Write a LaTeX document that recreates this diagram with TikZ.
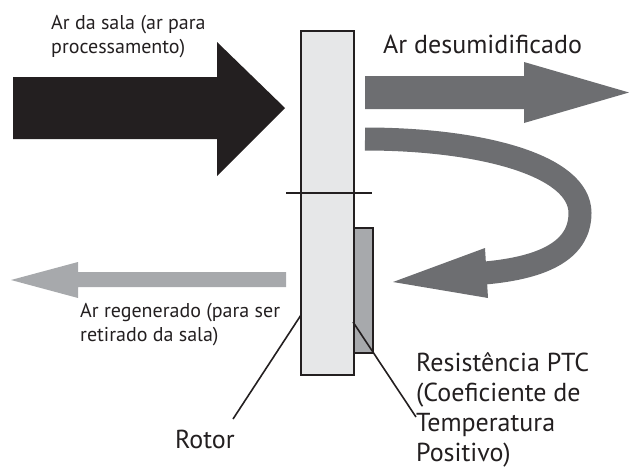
\documentclass[tikz,border=0pt]{standalone}
\usepackage{fontspec}
\setmainfont{PT Sans}
\usetikzlibrary{positioning}
\definecolor{inkblack}{HTML}{231F20}
\definecolor{dryair}{HTML}{6D6E71}
\definecolor{wetair}{HTML}{A7A9AC}
\definecolor{rotorfill}{HTML}{E6E7E8}

\begin{document}
\begin{tikzpicture}[
  x=1pt, y=-1pt,
  biglbl/.style={font=\fontsize{26}{30}\selectfont, inner sep=0pt, align=left, anchor=base west, text=inkblack},
  smalllbl/.style={font=\fontsize{20}{24}\selectfont, inner sep=0pt, align=left, anchor=base west, text=inkblack},
  part/.style={draw=inkblack, line width=1.4pt, inner sep=0pt},
  leader/.style={draw=inkblack, line width=1.6pt}
]
  \useasboundingbox (0,0) rectangle (629,471);

  \fill[inkblack] (13,77) -- (217,77) -- (217,42) -- (285,108) -- (217,176) -- (217,139) -- (13,139) -- cycle;

  \fill[dryair] (365,76) -- (524,76) -- (524,62) -- (629,92.5) -- (524,123) -- (524,109) -- (365,109) -- cycle;
  \draw[dryair, line width=23pt] (365,139) .. controls (480,139) and (580,165) .. (580,213)
    .. controls (580,252) and (540,268) .. (485,273);
  \fill[dryair] (485,248) -- (393,282) -- (488,298) -- cycle;

  \fill[wetair] (286,272) -- (78,272) -- (78,262) -- (11,280) -- (78,298) -- (78,287) -- (286,287) -- cycle;

  \node[part, fill=rotorfill, minimum width=53pt, minimum height=344pt] (rotor) at (327.5,203) {};
  \node[part, fill=wetair, minimum width=19pt, minimum height=125pt] (ptc) at (363.5,290.5) {};
  \draw[part] (286,193) -- (372,193);

  \node[smalllbl] (roomair) at (51,53) {Ar da sala (ar para\\processamento)};
  \node[biglbl] (dryairlbl) at (383,53) {Ar desumidificado};
  \node[smalllbl] (regenair) at (80,341) {Ar regenerado (para ser\\retirado da sala)};
  \node[biglbl] (rotorlbl) at (175,448) {Rotor};
  \node[biglbl] (ptclbl) at (416,461) {Resistência PTC\\(Coeficiente de\\Temperatura\\Positivo)};

  \coordinate (rotorpin) at (301,315);
  \coordinate (rotorend) at (233,419);
  \coordinate (ptcpin) at (353,322);
  \coordinate (ptcend) at (416,417);
  \draw[leader] (rotorpin) -- (rotorend);
  \draw[leader] (ptcpin) -- (ptcend);
\end{tikzpicture}
\end{document}
